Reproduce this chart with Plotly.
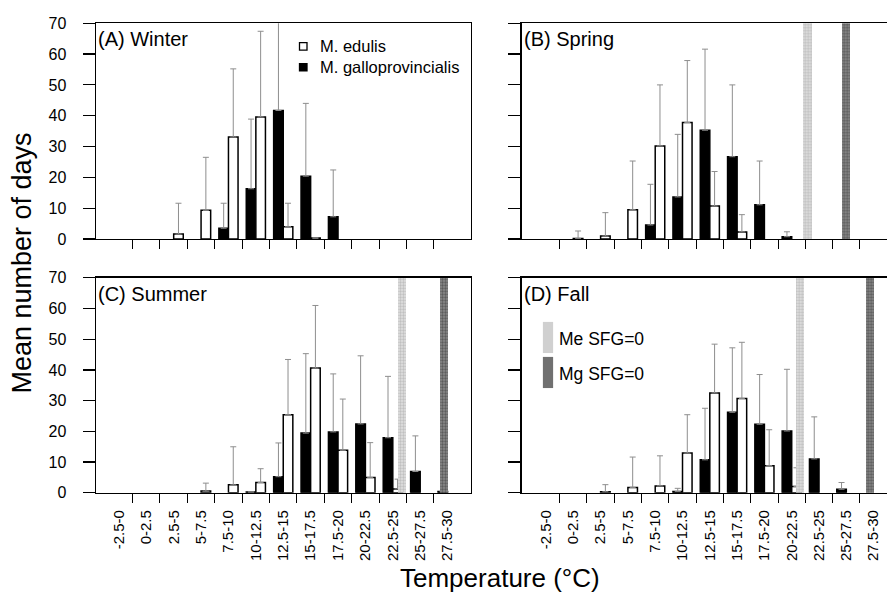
import plotly.graph_objects as go

# ---------------- data ----------------
categories = ["-2.5-0", "0-2.5", "2.5-5", "5-7.5", "7.5-10", "10-12.5", "12.5-15",
              "15-17.5", "17.5-20", "20-22.5", "22.5-25", "25-27.5", "27.5-30"]
seasons = ["Winter", "Spring", "Summer", "Fall"]
panel_titles = ["(A) Winter", "(B) Spring", "(C) Summer", "(D) Fall"]
species = ["M. edulis", "M. galloprovincialis"]

# mean number of days, M. edulis (white) and M. galloprovincialis (black)
winter_me = [0, 0, 1.6, 9.3, 33.1, 39.6, 4.0, 0.3, 0, 0, 0, 0, 0]
winter_mg = [0, 0, 0, 0, 3.5, 16.3, 41.7, 20.4, 7.2, 0, 0, 0, 0]
spring_me = [0, 0.2, 0.95, 9.5, 30.2, 37.8, 10.7, 2.3, 0, 0, 0, 0, 0]
spring_mg = [0, 0, 0, 0, 4.55, 13.65, 35.3, 26.7, 11.1, 0.74, 0, 0, 0]
summer_me = [0, 0, 0, 0.5, 2.55, 3.3, 25.4, 40.6, 13.8, 4.9, 1.2, 0, 0]
summer_mg = [0, 0, 0, 0, 0, 0.2, 5.2, 19.4, 19.8, 22.4, 17.9, 6.9, 0.4]
fall_me = [0, 0, 0.3, 1.7, 2.2, 12.9, 32.5, 30.7, 8.8, 2.0, 0, 0, 0]
fall_mg = [0, 0, 0, 0, 0, 0.4, 10.7, 26.2, 22.3, 20.1, 11.0, 1.1, 0]

# standard deviations (upper whiskers)
N = None
winter_me_sd = [N, N, 10.0, 17.2, 22.1, 27.8, 7.6, N, N, N, N, N, N]
winter_mg_sd = [N, N, N, N, 8.1, 22.6, 35.0, 23.6, 15.2, N, N, N, N]
spring_me_sd = [N, 2.4, 7.6, 15.8, 19.8, 20.1, 11.2, 5.6, N, N, N, N, N]
spring_mg_sd = [N, N, N, N, 13.2, 20.3, 26.3, 23.3, 14.2, 1.6, N, N, N]
summer_me_sd = [N, N, N, 2.6, 12.4, 4.5, 18.0, 20.4, 16.7, 11.4, 3.2, N, N]
summer_mg_sd = [N, N, N, N, N, N, 11.0, 25.9, 18.9, 22.2, 20.0, 11.6, N]
fall_me_sd = [N, N, 2.3, 9.9, 9.8, 12.5, 15.9, 18.3, 11.7, 6.1, N, N, N]
fall_mg_sd = [N, N, N, N, N, 1.0, 16.8, 21.0, 16.2, 20.1, 13.7, 2.2, N]

# temperature (deg C) at which scope for growth = 0, per season
me_sfg0 = [None, 22.7, 24.6, 22.0]
mg_sfg0 = [None, 26.2, 28.4, 28.4]
sfg_labels = ["Me SFG=0", "Mg SFG=0"]

y_ticks = [0, 10, 20, 30, 40, 50, 60, 70]

me_series = [winter_me, spring_me, summer_me, fall_me]
mg_series = [winter_mg, spring_mg, summer_mg, fall_mg]
me_sds = [winter_me_sd, spring_me_sd, summer_me_sd, fall_me_sd]
mg_sds = [winter_mg_sd, spring_mg_sd, summer_mg_sd, fall_mg_sd]

# ---------------- figure ----------------
W, H = 887, 603
FONT = "Liberation Sans, Arial, sans-serif"
idx = list(range(len(categories)))
BW = 0.35
BAND_W = 0.3
ERR_COL = "#8e8e8e"
LIGHT_BAND = dict(color="#d0d0d0", fg="#9c9c9c", bg="#e2e2e2")
DARK_BAND = dict(color="#707070", fg="#262626", bg="#8e8e8e")


def temp_to_bin(t):
    # bin k covers [-2.5 + 2.5k, 2.5k]
    return (t + 1.25) / 2.5


def nz(vals):
    # empty bins are not drawn
    return [v if v else None for v in vals]


fig = go.Figure()

# domains (paper fractions)
xl = [96 / W, 470.7 / W]
xr = [521.7 / W, 1.0]
yt = [1 - 237.7 / H, 1 - 15.7 / H]
yb = [1 - 498.7 / H, 1 - 277.7 / H]
domains = [(xl, yt), (xr, yt), (xl, yb), (xr, yb)]
xranges = [[-0.836, 12.844], [-0.89, 12.49], [-0.836, 12.844], [-0.89, 12.49]]

for i in range(4):
    xa = "x" if i == 0 else f"x{i+1}"
    ya = "y" if i == 0 else f"y{i+1}"
    # M. galloprovincialis (black, left of each bin)
    fig.add_trace(go.Bar(
        x=idx, y=nz(mg_series[i]), xaxis=xa, yaxis=ya, offset=-BW, width=BW,
        marker=dict(color="black", line=dict(color="black", width=1.5)),
        error_y=dict(type="data", array=mg_sds[i], arrayminus=[0] * 13, symmetric=False,
                     color=ERR_COL, thickness=1, width=3),
        showlegend=False, name=species[1]))
    # M. edulis (white, right of each bin)
    fig.add_trace(go.Bar(
        x=idx, y=nz(me_series[i]), xaxis=xa, yaxis=ya, offset=0, width=BW,
        marker=dict(color="white", line=dict(color="black", width=1.5)),
        error_y=dict(type="data", array=me_sds[i], arrayminus=[0] * 13, symmetric=False,
                     color=ERR_COL, thickness=1, width=3),
        showlegend=False, name=species[0]))
    # SFG = 0 bands
    for thr, sty, lab in ((me_sfg0[i], LIGHT_BAND, sfg_labels[0]),
                          (mg_sfg0[i], DARK_BAND, sfg_labels[1])):
        if thr is None:
            continue
        fig.add_trace(go.Bar(
            x=[temp_to_bin(thr)], y=[70], xaxis=xa, yaxis=ya, width=[BAND_W],
            marker=dict(color=sty["color"], line=dict(width=0),
                        pattern=dict(shape=".", fgcolor=sty["fg"], bgcolor=sty["bg"],
                                     size=3, solidity=0.5)),
            showlegend=False, name=lab, hoverinfo="skip"))

layout_axes = {}
for i in range(4):
    xkey = "xaxis" if i == 0 else f"xaxis{i+1}"
    ykey = "yaxis" if i == 0 else f"yaxis{i+1}"
    xa = "x" if i == 0 else f"x{i+1}"
    ya = "y" if i == 0 else f"y{i+1}"
    xd, yd = domains[i]
    bottom = i >= 2
    left = i % 2 == 0
    layout_axes[xkey] = dict(
        domain=xd, range=xranges[i], anchor=ya,
        tickmode="array", tickvals=idx, ticktext=categories,
        showticklabels=bottom, ticks="", tickangle=-90,
        tickfont=dict(size=15, color="black"), ticklabelstandoff=10,
        minor=dict(tickmode="array", tickvals=[k + 0.5 for k in range(12)],
                   ticks="outside", ticklen=9, tickwidth=1, tickcolor="black"),
        showline=True, linecolor="black", linewidth=1.5, mirror=True,
        showgrid=False, zeroline=False, fixedrange=True)
    layout_axes[ykey] = dict(
        domain=yd, range=[0, 70], anchor=xa,
        tickmode="array", tickvals=y_ticks, ticks="outside", ticklen=12,
        tickwidth=1.2, tickcolor="black", showticklabels=left,
        tickfont=dict(size=16, color="black"), ticklabelstandoff=13,
        showline=True, linecolor="black", linewidth=1.5, mirror=left,
        showgrid=False, zeroline=False, fixedrange=True)

annotations = []
shapes = []
for i in range(4):
    xa = "x" if i == 0 else f"x{i+1}"
    ya = "y" if i == 0 else f"y{i+1}"
    annotations.append(dict(text=panel_titles[i], xref=f"{xa} domain", yref=f"{ya} domain",
                            x=0, y=1, xanchor="left", yanchor="top", xshift=0, yshift=-3,
                            showarrow=False, font=dict(size=20, color="black")))

# species key in panel A (paper pixels -> fractions)
for j, (name, fill) in enumerate(zip(species, ["white", "black"])):
    yc = 39.5 + 21.5 * j
    shapes.append(dict(type="rect", xref="paper", yref="paper",
                       x0=299.5 / W, x1=307 / W, y0=1 - (yc + 3.8) / H, y1=1 - (yc - 3.8) / H,
                       fillcolor=fill, line=dict(color="black", width=1.3), layer="above"))
    annotations.append(dict(text=name, xref="paper", yref="paper", x=318 / W, y=1 - yc / H,
                            xanchor="left", yanchor="middle", showarrow=False,
                            font=dict(size=16.5, color="black")))

# SFG key in panel D
for j, (lab, sty) in enumerate(zip(sfg_labels, [LIGHT_BAND, DARK_BAND])):
    y_hi = 0.795 - 0.163 * j
    shapes.append(dict(type="rect", xref="x4 domain", yref="y4 domain", x0=0.058, x1=0.086,
                       y0=y_hi - 0.145, y1=y_hi, fillcolor=sty["color"], line=dict(width=0),
                       layer="above"))
    annotations.append(dict(text=lab, xref="x4 domain", yref="y4 domain", x=0.097,
                            y=y_hi - 0.0805, xanchor="left", yanchor="middle", showarrow=False,
                            font=dict(size=17.5, color="black")))

# axis titles
annotations.append(dict(text="Mean number of days", xref="paper", yref="paper",
                        x=22 / W, y=1 - 263 / H, xanchor="center", yanchor="middle",
                        textangle=-90, showarrow=False, font=dict(size=27, color="black")))
annotations.append(dict(text="Temperature (°C)", xref="paper", yref="paper",
                        x=500 / W, y=1 - 587 / H, xanchor="center", yanchor="middle",
                        showarrow=False, font=dict(size=26, color="black")))

fig.update_layout(
    width=W, height=H, margin=dict(l=0, r=0, t=0, b=0),
    paper_bgcolor="white", plot_bgcolor="white",
    barmode="overlay", bargap=0,
    font=dict(family=FONT, color="black"),
    showlegend=False,
    annotations=annotations, shapes=shapes,
    **layout_axes)

fig.write_html("out.html", config={"displayModeBar": False, "staticPlot": True},
               post_script="document.body.style.margin='0';document.body.style.padding='0';")
